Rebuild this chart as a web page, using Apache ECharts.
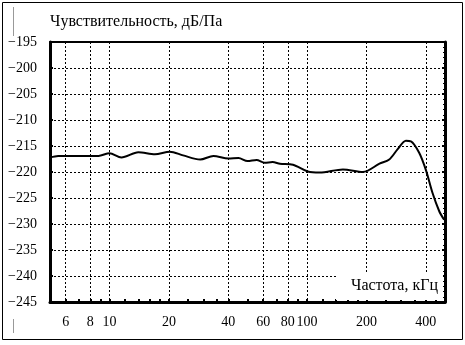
<!DOCTYPE html>
<html>
<head>
<meta charset="utf-8">
<script src="https://cdn.jsdelivr.net/npm/echarts@6/dist/echarts.min.js"></script>
<style>
    html, body { margin: 0; padding: 0; background: #fff; }
    #chart { width: 465px; height: 345px; }
</style>
</head>
<body>
<div id="chart"></div>
<script>
// frequency, kHz
var freq = [5.0, 5.5, 7, 8.8, 10, 11.5, 14, 17, 20.2, 23.6, 28.8, 33.6, 40, 45, 50, 55.6, 61, 67, 73, 85,
    101, 116, 152, 192, 233, 261, 288, 317, 336, 370, 400, 432, 467, 495];
// sensitivity, dB/Pa
var sens = [-217.2, -216.9, -216.9, -216.9, -216.4, -217.2, -216.2, -216.6, -216.1, -216.8, -217.6, -216.9, -217.4, -217.3, -217.9, -217.7, -218.2, -218.1, -218.4, -218.6,
    -219.9, -220.1, -219.5, -220.0, -218.4, -217.6, -215.6, -214.0, -214.1, -216.3, -219.6, -224.0, -227.5, -229.2];
var xLabels = [6, 8, 10, 20, 40, 60, 80, 100, 200, 400];
var xMinor = [6, 7, 8, 9, 10, 12, 14, 16, 18, 20, 25, 30, 35, 40, 50, 60, 70, 80, 90, 100,
    120, 140, 160, 180, 200, 250, 300, 350, 400, 450];

var FONT = "'Liberation Serif', 'Times New Roman', serif";

var data = [];
for (var i = 0; i < freq.length; i++) {
    data.push([freq[i], sens[i]]);
}

var chart = echarts.init(document.getElementById('chart'));
var option = {
    animation: false,
    grid: {
        left: 50,
        right: 20,
        top: 42,
        bottom: 43
    },
    xAxis: [
        {
            type: 'log',
            logBase: 10,
            min: 5,
            max: 500,
            position: 'bottom',
            axisLine: { show: true, lineStyle: { color: '#000', width: 3 } },
            axisTick: {
                show: true,
                inside: true,
                length: 3,
                customValues: xMinor,
                lineStyle: { color: '#000', width: 2 }
            },
            axisLabel: {
                customValues: xLabels,
                margin: 13,
                color: '#000',
                fontFamily: FONT,
                fontSize: 14
            },
            splitLine: { show: false }
        },
        {
            type: 'log',
            logBase: 10,
            min: 5,
            max: 500,
            position: 'top',
            axisLine: { show: true, lineStyle: { color: '#000', width: 2 } },
            axisTick: { show: false, customValues: xLabels },
            axisLabel: { show: false },
            splitLine: {
                show: true,
                lineStyle: { color: '#000', width: 1, type: [2, 2] }
            }
        }
    ],
    yAxis: [
        {
            type: 'value',
            min: -245,
            max: -195,
            interval: 5,
            position: 'left',
            axisLine: { show: true, lineStyle: { color: '#000', width: 3 } },
            axisTick: { show: true, inside: true, length: 3, lineStyle: { color: '#000', width: 2 } },
            minorTick: { show: true, splitNumber: 5, length: 2, lineStyle: { color: '#000', width: 1 } },
            axisLabel: {
                margin: 13,
                color: '#000',
                fontFamily: FONT,
                fontSize: 14,
                formatter: function (v) {
                    return String(v).replace('-', '\u2212');
                }
            },
            splitLine: {
                show: true,
                lineStyle: { color: '#000', width: 1, type: [2, 2] }
            }
        },
        {
            type: 'value',
            min: -245,
            max: -195,
            interval: 5,
            position: 'right',
            axisLine: { show: true, lineStyle: { color: '#000', width: 3 } },
            axisTick: { show: true, inside: true, length: 3, lineStyle: { color: '#000', width: 2 } },
            minorTick: { show: true, splitNumber: 5, length: 2, lineStyle: { color: '#000', width: 1 } },
            axisLabel: { show: false },
            splitLine: { show: false }
        }
    ],
    graphic: [
        {
            type: 'rect',
            shape: { x: 2.5, y: 2.5, width: 460, height: 337 },
            style: { fill: 'none', stroke: '#000', lineWidth: 1 },
            silent: true
        },
        {
            type: 'line',
            shape: { x1: 13.5, y1: 7, x2: 13.5, y2: 36 },
            style: { stroke: '#999', lineWidth: 1 }
        },
        {
            type: 'line',
            shape: { x1: 13.5, y1: 319, x2: 13.5, y2: 333 },
            style: { stroke: '#999', lineWidth: 1 }
        },
        {
            type: 'text',
            left: 50,
            top: 14,
            style: {
                text: 'Чувствительность, дБ/Па',
                fill: '#000',
                font: '16px ' + FONT
            }
        },
        {
            type: 'rect',
            z: 10,
            shape: { x: 336, y: 273, width: 107, height: 27 },
            style: { fill: '#fff' },
            silent: true
        },
        {
            type: 'text',
            z: 11,
            left: 351,
            top: 278,
            style: {
                text: 'Частота, кГц',
                fill: '#000',
                font: '16px ' + FONT
            }
        }
    ],
    series: [
        {
            type: 'line',
            xAxisIndex: 0,
            yAxisIndex: 0,
            data: data,
            smooth: 0.3,
            showSymbol: false,
            lineStyle: { color: '#000', width: 2 },
            z: 5
        }
    ]
};
chart.setOption(option);
</script>
</body>
</html>
